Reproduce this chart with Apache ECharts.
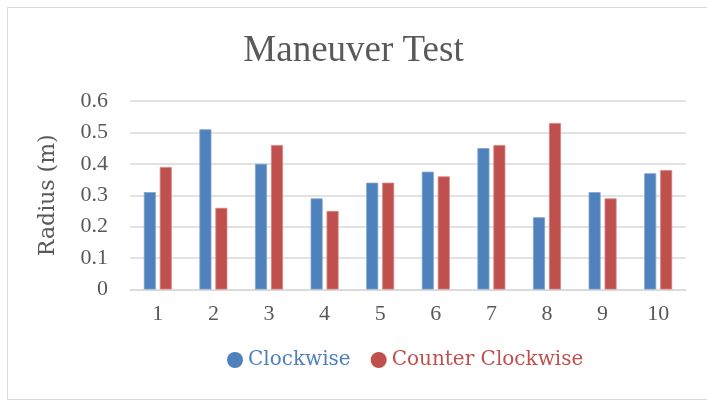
<!DOCTYPE html>
<html lang="en">

<head>
  <meta charset="UTF-8">
  <title>Maneuver Test</title>
  <style>
    html, body { margin: 0; background: #fff; overflow: hidden; width: 707px; height: 400px; }
    #frame { position: absolute; left: 7px; top: 7px; width: 730px; height: 391px; border: 1.5px solid #d9d9d9; }
    #main { position: absolute; left: 0; top: 0; width: 707px; height: 400px; }
  </style>
</head>

<body>
  <div id="frame"></div>
  <div id="main"></div>
  <script src="https://cdn.jsdelivr.net/npm/echarts@6/dist/echarts.min.js"></script>
  <script type="text/javascript">
    // data
    var runs = ['1', '2', '3', '4', '5', '6', '7', '8', '9', '10'];
    var clockwise = [0.31, 0.51, 0.40, 0.29, 0.34, 0.375, 0.45, 0.23, 0.31, 0.37];
    var counterClockwise = [0.39, 0.26, 0.46, 0.25, 0.34, 0.36, 0.46, 0.53, 0.29, 0.38];
    var yTicks = ['0', '0.1', '0.2', '0.3', '0.4', '0.5', '0.6'];

    var blue = '#4f81bd';
    var red = '#c0504d';
    var grey = '#595959';

    var myChart = echarts.init(document.getElementById('main'));

    var option = {
      title: {
        text: 'Maneuver Test',
        left: 'center',
        top: 28,
        textStyle: { fontFamily: 'Liberation Serif', fontSize: 37, fontWeight: 'normal', color: grey }
      },
      legend: {
        left: 222,
        top: 345,
        icon: 'circle',
        itemWidth: 16,
        itemHeight: 16,
        itemGap: 20,
        itemStyle: { borderWidth: 0 },
        textStyle: { fontFamily: 'DejaVu Serif', fontSize: 20 },
        data: [
          { name: 'Clockwise', textStyle: { color: blue } },
          { name: 'Counter Clockwise', textStyle: { color: red } }
        ]
      },
      grid: { left: 130, right: 21, top: 101, bottom: 110.5 },
      xAxis: {
        type: 'category',
        data: runs,
        axisLine: { lineStyle: { color: '#d9d9d9', width: 1.5 } },
        axisTick: { length: 6, lineStyle: { color: '#d9d9d9', width: 1.5 } },
        axisLabel: { margin: 14, color: grey, fontFamily: 'Liberation Serif', fontSize: 22 }
      },
      yAxis: {
        type: 'value',
        min: 0,
        max: 0.6,
        interval: 0.1,
        name: 'Radius (m)',
        nameLocation: 'middle',
        nameGap: 71,
        nameTextStyle: { color: grey, fontFamily: 'DejaVu Serif', fontSize: 22 },
        axisLine: { show: false },
        axisTick: { show: false },
        splitLine: { lineStyle: { color: '#d9d9d9', width: 1.5 } },
        axisLabel: {
          margin: 22,
          color: grey,
          fontFamily: 'Liberation Serif',
          fontSize: 22,
          formatter: function (v) { return yTicks[Math.round(v * 10)]; }
        }
      },
      series: [
        {
          name: 'Clockwise',
          type: 'bar',
          data: clockwise,
          barWidth: 12,
          barGap: '33%',
          itemStyle: { color: blue, borderColor: '#7fa3d1', borderWidth: 0.8 }
        },
        {
          name: 'Counter Clockwise',
          type: 'bar',
          data: counterClockwise,
          barWidth: 12,
          barGap: '33%',
          itemStyle: { color: red, borderColor: '#d48583', borderWidth: 0.8 }
        }
      ]
    };
    myChart.setOption(option);
  </script>
</body>

</html>
